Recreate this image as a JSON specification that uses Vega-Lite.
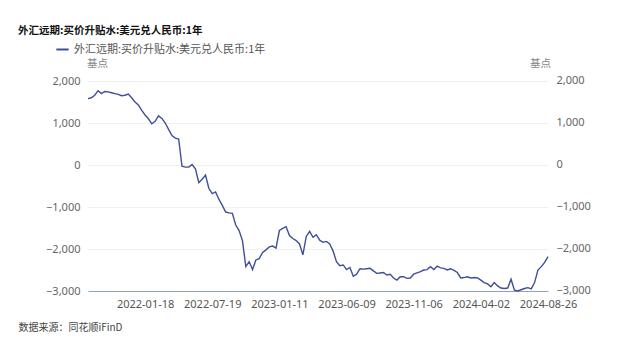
{
  "$schema": "https://vega.github.io/schema/vega-lite/v6.json",
  "width": 460,
  "height": 210,
  "autosize": {"type": "none"},
  "padding": {"left": 88, "top": 81, "right": 92, "bottom": 62},
  "background": "white",
  "config": {
    "font": "Noto Sans CJK SC",
    "view": {"stroke": null}
  },
  "title": {
    "text": "外汇远期:买价升贴水:美元兑人民币:1年",
    "anchor": "start",
    "frame": "group",
    "dx": -70,
    "fontSize": 10.5,
    "fontWeight": "bold",
    "color": "#111111",
    "offset": 6
  },
  "data": {
    "values": [
      {"date": "2021-09-10", "v": 1580},
      {"date": "2021-09-17", "v": 1600},
      {"date": "2021-09-24", "v": 1660},
      {"date": "2021-10-08", "v": 1770},
      {"date": "2021-10-15", "v": 1700},
      {"date": "2021-10-22", "v": 1750},
      {"date": "2021-10-29", "v": 1740},
      {"date": "2021-11-05", "v": 1720},
      {"date": "2021-11-12", "v": 1700},
      {"date": "2021-11-19", "v": 1680},
      {"date": "2021-11-26", "v": 1650},
      {"date": "2021-12-03", "v": 1660},
      {"date": "2021-12-10", "v": 1690},
      {"date": "2021-12-17", "v": 1600},
      {"date": "2021-12-24", "v": 1500},
      {"date": "2021-12-31", "v": 1430},
      {"date": "2022-01-11", "v": 1300},
      {"date": "2022-01-18", "v": 1190},
      {"date": "2022-01-25", "v": 1100},
      {"date": "2022-02-08", "v": 980},
      {"date": "2022-02-16", "v": 1040},
      {"date": "2022-02-24", "v": 1170},
      {"date": "2022-03-04", "v": 1110},
      {"date": "2022-03-14", "v": 1000},
      {"date": "2022-03-22", "v": 850},
      {"date": "2022-03-30", "v": 700},
      {"date": "2022-04-08", "v": 640},
      {"date": "2022-04-18", "v": 620},
      {"date": "2022-04-26", "v": -30},
      {"date": "2022-05-06", "v": -50},
      {"date": "2022-05-16", "v": -50},
      {"date": "2022-05-24", "v": 10},
      {"date": "2022-06-01", "v": -90},
      {"date": "2022-06-10", "v": -420},
      {"date": "2022-06-20", "v": -340},
      {"date": "2022-06-28", "v": -240},
      {"date": "2022-07-07", "v": -560},
      {"date": "2022-07-19", "v": -680},
      {"date": "2022-07-27", "v": -640},
      {"date": "2022-08-04", "v": -820},
      {"date": "2022-08-12", "v": -960},
      {"date": "2022-08-22", "v": -1120},
      {"date": "2022-08-30", "v": -1140},
      {"date": "2022-09-07", "v": -1150},
      {"date": "2022-09-16", "v": -1430},
      {"date": "2022-09-26", "v": -1560},
      {"date": "2022-10-11", "v": -1800},
      {"date": "2022-10-19", "v": -2420},
      {"date": "2022-10-27", "v": -2300},
      {"date": "2022-11-04", "v": -2490},
      {"date": "2022-11-14", "v": -2260},
      {"date": "2022-11-22", "v": -2230},
      {"date": "2022-11-30", "v": -2080},
      {"date": "2022-12-08", "v": -2020},
      {"date": "2022-12-16", "v": -1950},
      {"date": "2022-12-26", "v": -1930},
      {"date": "2023-01-04", "v": -1980},
      {"date": "2023-01-11", "v": -1560},
      {"date": "2023-01-18", "v": -1510},
      {"date": "2023-01-31", "v": -1470},
      {"date": "2023-02-07", "v": -1680},
      {"date": "2023-02-14", "v": -1750},
      {"date": "2023-02-21", "v": -1800},
      {"date": "2023-02-28", "v": -1880},
      {"date": "2023-03-07", "v": -2140},
      {"date": "2023-03-14", "v": -1700},
      {"date": "2023-03-21", "v": -1580},
      {"date": "2023-03-28", "v": -1720},
      {"date": "2023-04-04", "v": -1660},
      {"date": "2023-04-11", "v": -1790},
      {"date": "2023-04-18", "v": -1840},
      {"date": "2023-04-25", "v": -1820},
      {"date": "2023-05-05", "v": -1880},
      {"date": "2023-05-12", "v": -2050},
      {"date": "2023-05-19", "v": -2300},
      {"date": "2023-05-26", "v": -2400},
      {"date": "2023-06-02", "v": -2380},
      {"date": "2023-06-09", "v": -2490},
      {"date": "2023-06-16", "v": -2440},
      {"date": "2023-06-26", "v": -2650},
      {"date": "2023-07-03", "v": -2600},
      {"date": "2023-07-10", "v": -2470},
      {"date": "2023-07-17", "v": -2480},
      {"date": "2023-07-24", "v": -2470},
      {"date": "2023-07-31", "v": -2460},
      {"date": "2023-08-07", "v": -2520},
      {"date": "2023-08-14", "v": -2580},
      {"date": "2023-08-21", "v": -2570},
      {"date": "2023-08-28", "v": -2560},
      {"date": "2023-09-04", "v": -2620},
      {"date": "2023-09-11", "v": -2600},
      {"date": "2023-09-18", "v": -2690},
      {"date": "2023-09-25", "v": -2740},
      {"date": "2023-10-09", "v": -2660},
      {"date": "2023-10-16", "v": -2660},
      {"date": "2023-10-23", "v": -2700},
      {"date": "2023-10-30", "v": -2690},
      {"date": "2023-11-06", "v": -2600},
      {"date": "2023-11-13", "v": -2570},
      {"date": "2023-11-20", "v": -2540},
      {"date": "2023-11-27", "v": -2500},
      {"date": "2023-12-04", "v": -2490},
      {"date": "2023-12-11", "v": -2420},
      {"date": "2023-12-18", "v": -2490},
      {"date": "2023-12-25", "v": -2410},
      {"date": "2024-01-02", "v": -2450},
      {"date": "2024-01-09", "v": -2460},
      {"date": "2024-01-16", "v": -2500},
      {"date": "2024-01-23", "v": -2470},
      {"date": "2024-01-30", "v": -2510},
      {"date": "2024-02-06", "v": -2560},
      {"date": "2024-02-20", "v": -2690},
      {"date": "2024-02-27", "v": -2680},
      {"date": "2024-03-05", "v": -2660},
      {"date": "2024-03-12", "v": -2690},
      {"date": "2024-03-19", "v": -2680},
      {"date": "2024-03-26", "v": -2690},
      {"date": "2024-04-02", "v": -2740},
      {"date": "2024-04-10", "v": -2800},
      {"date": "2024-04-17", "v": -2830},
      {"date": "2024-04-24", "v": -2900},
      {"date": "2024-05-06", "v": -2800},
      {"date": "2024-05-13", "v": -2880},
      {"date": "2024-05-20", "v": -2930},
      {"date": "2024-05-27", "v": -2940},
      {"date": "2024-06-03", "v": -2930},
      {"date": "2024-06-11", "v": -2720},
      {"date": "2024-06-18", "v": -2980},
      {"date": "2024-06-25", "v": -3000},
      {"date": "2024-07-02", "v": -2970},
      {"date": "2024-07-09", "v": -2940},
      {"date": "2024-07-16", "v": -2920},
      {"date": "2024-07-23", "v": -2950},
      {"date": "2024-07-30", "v": -2800},
      {"date": "2024-08-06", "v": -2500},
      {"date": "2024-08-13", "v": -2420},
      {"date": "2024-08-20", "v": -2320},
      {"date": "2024-08-26", "v": -2180}
    ]
  },
  "layer": [
    {
      "mark": {"type": "line", "strokeWidth": 1.4, "interpolate": "linear"},
      "encoding": {
        "x": {
          "field": "date",
          "type": "ordinal",
          "scale": {"type": "point", "padding": 0},
          "axis": {
            "values": ["2022-01-18", "2022-07-19", "2023-01-11", "2023-06-09", "2023-11-06", "2024-04-02", "2024-08-26"],
            "labelAngle": 0,
            "ticks": false,
            "grid": false,
            "domainColor": "#8f9fd0",
            "domainWidth": 1,
            "labelColor": "#555555",
            "labelFontSize": 11,
            "labelPadding": 7,
            "labelFont": "Noto Sans",
            "title": "数据来源：同花顺iFinD",
            "titleAnchor": "start",
            "titleAlign": "left",
            "titleX": -70,
            "titleY": 31,
            "titleFontSize": 10,
            "titleFontWeight": "normal",
            "titleColor": "#444444"
          }
        },
        "y": {
          "field": "v",
          "type": "quantitative",
          "scale": {"domain": [-3000, 2000], "nice": false, "clamp": true},
          "axis": {
            "orient": "left",
            "values": [-3000, -2000, -1000, 0, 1000, 2000],
            "format": ",d",
            "ticks": false,
            "domain": false,
            "grid": true,
            "gridColor": "#eef0f6",
            "labelColor": "#666666",
            "labelFontSize": 11,
            "labelPadding": 8,
            "labelFont": "Noto Sans",
            "title": "基点",
            "titleAngle": 0,
            "titleAlign": "center",
            "titleBaseline": "middle",
            "titleX": 9,
            "titleY": -18,
            "titleFontSize": 10.5,
            "titleFontWeight": "normal",
            "titleColor": "#888888"
          }
        },
        "color": {
          "datum": "外汇远期:买价升贴水:美元兑人民币:1年",
          "type": "nominal",
          "scale": {"range": ["#3f4f98"]},
          "legend": {
            "orient": "none",
            "legendX": -33,
            "legendY": -39,
            "title": null,
            "symbolType": "stroke",
            "symbolStrokeWidth": 2,
            "symbolSize": 150,
            "labelFontSize": 11,
            "labelLimit": 400,
            "labelColor": "#555555",
            "labelFont": "Noto Sans CJK SC"
          }
        }
      }
    },
    {
      "mark": {"type": "rule", "opacity": 0},
      "encoding": {
        "y": {
          "field": "v",
          "type": "quantitative",
          "scale": {"domain": [-3000, 2000], "nice": false},
          "axis": {
            "orient": "right",
            "values": [-3000, -2000, -1000, 0, 1000, 2000],
            "format": ",d",
            "ticks": false,
            "domain": false,
            "grid": false,
            "labelColor": "#666666",
            "labelFontSize": 11,
            "labelPadding": 8,
            "labelOffset": -1,
            "labelFont": "Noto Sans",
            "title": "基点",
            "titleAngle": 0,
            "titleAlign": "center",
            "titleBaseline": "middle",
            "titleX": -8,
            "titleY": -18,
            "titleFontSize": 10.5,
            "titleFontWeight": "normal",
            "titleColor": "#888888"
          }
        }
      }
    }
  ],
  "resolve": {"scale": {"y": "independent"}}
}
